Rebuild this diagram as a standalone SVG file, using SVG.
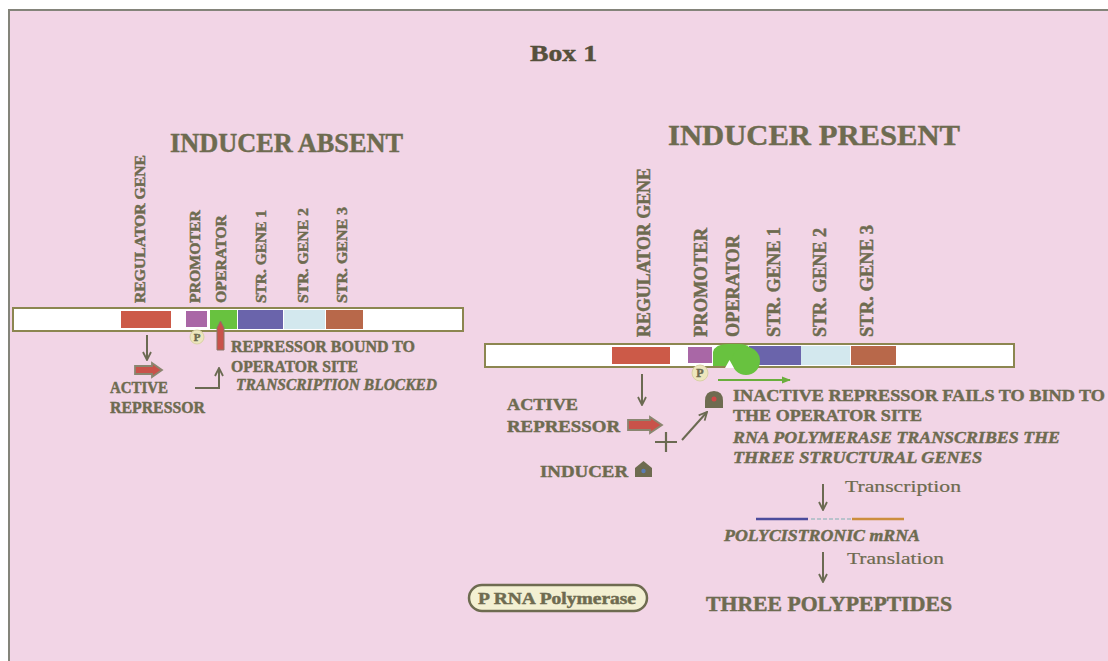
<svg xmlns="http://www.w3.org/2000/svg" width="1108" height="661" viewBox="0 0 1108 661">
<defs>
<style>
.t{font-family:"Liberation Serif",serif;font-weight:bold;fill:#6e6b50;stroke:#6e6b50;stroke-width:0.45}
.it{font-style:italic}
.rg{font-weight:normal;stroke-width:0.2}
.ln{stroke:#6b6a52;stroke-width:2;fill:none}
.bar{fill:#ffffff;stroke:#8c8650;stroke-width:2}
.blk{fill:#c9524a;stroke:#8a8670;stroke-width:1.8}
</style>
<marker id="ah" viewBox="0 0 10 10" refX="9" refY="5" markerWidth="10" markerHeight="10" markerUnits="userSpaceOnUse" orient="auto">
<path d="M1,1 L9,5 L1,9" fill="none" stroke="#6b6a52" stroke-width="1.8"/>
</marker>
<marker id="ahg" viewBox="0 0 10 10" refX="9" refY="5" markerWidth="9" markerHeight="9" markerUnits="userSpaceOnUse" orient="auto">
<path d="M0,1 L10,5 L0,9 Z" fill="#6aae3c"/>
</marker>
</defs>

<rect x="0" y="0" width="1108" height="661" fill="#ffffff"/>
<rect x="9" y="10" width="1099" height="651" fill="#f2d5e6"/>
<path d="M9,661 V10 H1108" fill="none" stroke="#84847a" stroke-width="2"/>

<g id="title">
<text class="t" x="530" y="61" font-size="24" textLength="67" lengthAdjust="spacingAndGlyphs" style="fill:#55503c;stroke:#55503c">Box 1</text>
</g>

<g id="header-absent">
<text class="t" x="170" y="152" font-size="27" textLength="233" lengthAdjust="spacingAndGlyphs">INDUCER ABSENT</text>
</g>
<g id="header-present">
<text class="t" x="668" y="145" font-size="30" textLength="292" lengthAdjust="spacingAndGlyphs">INDUCER PRESENT</text>
</g>

<!-- Left operon -->
<g id="left-labels">
<text class="t" font-size="15" transform="translate(145,303) rotate(-90)" textLength="148" lengthAdjust="spacingAndGlyphs">REGULATOR GENE</text>
<text class="t" font-size="15" transform="translate(200,303) rotate(-90)" textLength="93" lengthAdjust="spacingAndGlyphs">PROMOTER</text>
<text class="t" font-size="15" transform="translate(226,303) rotate(-90)" textLength="88" lengthAdjust="spacingAndGlyphs">OPERATOR</text>
<text class="t" font-size="15" transform="translate(266,303) rotate(-90)" textLength="93" lengthAdjust="spacingAndGlyphs">STR. GENE 1</text>
<text class="t" font-size="15" transform="translate(308,303) rotate(-90)" textLength="95" lengthAdjust="spacingAndGlyphs">STR. GENE 2</text>
<text class="t" font-size="15" transform="translate(347,303) rotate(-90)" textLength="96" lengthAdjust="spacingAndGlyphs">STR. GENE 3</text>
</g>

<g id="left-dna">
<rect class="bar" x="13" y="308" width="450" height="23"/>
<rect x="121" y="311" width="50" height="17" fill="#cc5a48"/>
<rect x="186" y="311" width="21" height="16" fill="#a967a6"/>
<rect x="210" y="310" width="27" height="19" fill="#68c23f"/>
<rect x="238" y="310" width="45" height="19" fill="#6a64ab"/>
<rect x="284" y="310" width="41" height="19" fill="#d3e8ee"/>
<rect x="326" y="310" width="37" height="19" fill="#b8684a"/>
</g>

<g id="left-repressor-bound">
<path d="M217,350 V328 L220.5,321 L224,328 V350 Z" fill="#c9524a" stroke="#8a7668" stroke-width="1"/>
</g>

<g id="left-promoter-p">
<circle cx="197" cy="337" r="7" fill="#ede6bd" stroke="#d9d1a6" stroke-width="1"/>
<text class="t" x="197" y="341" font-size="11" text-anchor="middle">P</text>
</g>

<g id="left-active-repressor">
<path class="blk" d="M135,366 H152 V363 L162,370 L152,377 V374 H135 Z"/>
<text class="t" x="110" y="393" font-size="16" textLength="58" lengthAdjust="spacingAndGlyphs">ACTIVE</text>
<text class="t" x="110" y="413" font-size="16" textLength="95" lengthAdjust="spacingAndGlyphs">REPRESSOR</text>
</g>

<g id="left-bound-text">
<text class="t" x="231" y="352" font-size="16" textLength="184" lengthAdjust="spacingAndGlyphs">REPRESSOR BOUND TO</text>
<text class="t" x="231" y="372" font-size="16" textLength="127" lengthAdjust="spacingAndGlyphs">OPERATOR SITE</text>
<text class="t it" x="236" y="390" font-size="16" textLength="201" lengthAdjust="spacingAndGlyphs">TRANSCRIPTION BLOCKED</text>
</g>

<!-- Right operon -->
<g id="right-labels">
<text class="t" font-size="18" transform="translate(650,337) rotate(-90)" textLength="169" lengthAdjust="spacingAndGlyphs">REGULATOR GENE</text>
<text class="t" font-size="18" transform="translate(707,337) rotate(-90)" textLength="109" lengthAdjust="spacingAndGlyphs">PROMOTER</text>
<text class="t" font-size="18" transform="translate(739,337) rotate(-90)" textLength="102" lengthAdjust="spacingAndGlyphs">OPERATOR</text>
<text class="t" font-size="18" transform="translate(780,337) rotate(-90)" textLength="110" lengthAdjust="spacingAndGlyphs">STR. GENE 1</text>
<text class="t" font-size="18" transform="translate(826,337) rotate(-90)" textLength="109" lengthAdjust="spacingAndGlyphs">STR. GENE 2</text>
<text class="t" font-size="18" transform="translate(873,337) rotate(-90)" textLength="112" lengthAdjust="spacingAndGlyphs">STR. GENE 3</text>
</g>

<g id="right-dna">
<rect class="bar" x="485" y="344" width="529" height="23"/>
<rect x="612" y="347" width="58" height="17" fill="#cc5a48"/>
<rect x="688" y="347" width="24" height="16" fill="#a967a6"/>
<rect x="749" y="346" width="52" height="19" fill="#6a64ab"/>
<rect x="801" y="346" width="49" height="19" fill="#d3e8ee"/>
<rect x="851" y="346" width="45" height="19" fill="#b8684a"/>
</g>

<g id="right-inactive-repressor">
<path d="M713,366 V352 Q715,344 728,344 H740 Q748,344 752,350 V366 Z" fill="#68c23f"/>
<circle cx="746" cy="361" r="14" fill="#68c23f"/>
<path d="M725,368 L729.5,360 L734,368 Z" fill="#ffffff"/>
</g>

<g id="right-promoter-p">
<circle cx="700" cy="373" r="8" fill="#ede6bd" stroke="#d9d1a6" stroke-width="1"/>
<text class="t" x="700" y="377" font-size="12" text-anchor="middle">P</text>
</g>

<g id="right-active-repressor">
<text class="t" x="507" y="410" font-size="17" textLength="71" lengthAdjust="spacingAndGlyphs">ACTIVE</text>
<text class="t" x="507" y="432" font-size="17" textLength="113" lengthAdjust="spacingAndGlyphs">REPRESSOR</text>
<path class="blk" d="M628,420 H650 V417 L662,425 L650,433 V430 H628 Z"/>
</g>

<g id="inducer">
<text class="t" x="540" y="477" font-size="17" textLength="88" lengthAdjust="spacingAndGlyphs">INDUCER</text>
<path d="M635,477 V468 L643.5,461 L652,468 V477 Z" fill="#6e6b50"/>
<circle cx="643.5" cy="471" r="2.2" fill="#5a7cb4"/>
</g>

<g id="plus">
<path d="M655,442 H677 M666,432 V452" stroke="#6b6a52" stroke-width="2.2" fill="none"/>
</g>

<g id="inactive-complex">
<path d="M705,408 V401 Q705,391 714,391 Q723,391 723,401 V408 Z" fill="#6e6b50"/>
<circle cx="714" cy="399" r="2.5" fill="#d04848"/>
</g>

<g id="right-text">
<text class="t" x="733" y="401" font-size="17" textLength="372" lengthAdjust="spacingAndGlyphs">INACTIVE REPRESSOR FAILS TO BIND TO</text>
<text class="t" x="733" y="421" font-size="17" textLength="189" lengthAdjust="spacingAndGlyphs">THE OPERATOR SITE</text>
<text class="t it" x="733" y="443" font-size="17" textLength="327" lengthAdjust="spacingAndGlyphs">RNA POLYMERASE TRANSCRIBES THE</text>
<text class="t it" x="733" y="463" font-size="17" textLength="249" lengthAdjust="spacingAndGlyphs">THREE STRUCTURAL GENES</text>
</g>

<g id="transcription-label">
<text class="t rg" x="845" y="492" font-size="17" textLength="116" lengthAdjust="spacingAndGlyphs">Transcription</text>
</g>

<g id="mrna">
<line x1="756" y1="519" x2="808" y2="519" stroke="#4c4c9c" stroke-width="2.5"/>
<line x1="811" y1="519" x2="851" y2="519" stroke="#b9c2cc" stroke-width="2" stroke-dasharray="4 2"/>
<line x1="852" y1="519" x2="904" y2="519" stroke="#cc8e3e" stroke-width="2.5"/>
<text class="t it" x="724" y="541" font-size="16" textLength="196" lengthAdjust="spacingAndGlyphs">POLYCISTRONIC mRNA</text>
</g>

<g id="translation-label">
<text class="t rg" x="847" y="564" font-size="17" textLength="97" lengthAdjust="spacingAndGlyphs">Translation</text>
</g>

<g id="polypeptides">
<text class="t" x="706" y="611" font-size="20" textLength="246" lengthAdjust="spacingAndGlyphs">THREE POLYPEPTIDES</text>
</g>

<g id="legend">
<rect x="469" y="585" width="178" height="26" rx="13" fill="#f3f0d2" stroke="#6e6b50" stroke-width="2.5"/>
<text class="t" x="478" y="604" font-size="16" textLength="158" lengthAdjust="spacingAndGlyphs">P RNA Polymerase</text>
</g>

<g id="connectors">
<line class="ln" x1="147" y1="335" x2="147" y2="360" marker-end="url(#ah)"/>
<polyline class="ln" points="195,388 219,388 219,368" marker-end="url(#ah)"/>
<line class="ln" x1="642" y1="374" x2="642" y2="405" marker-end="url(#ah)"/>
<line class="ln" x1="682" y1="440" x2="707" y2="412" marker-end="url(#ah)"/>
<line x1="718" y1="380" x2="790" y2="380" stroke="#6aae3c" stroke-width="2" marker-end="url(#ahg)"/>
<line class="ln" x1="823" y1="484" x2="823" y2="510" marker-end="url(#ah)"/>
<line class="ln" x1="823" y1="552" x2="823" y2="582" marker-end="url(#ah)"/>
</g>
</svg>
